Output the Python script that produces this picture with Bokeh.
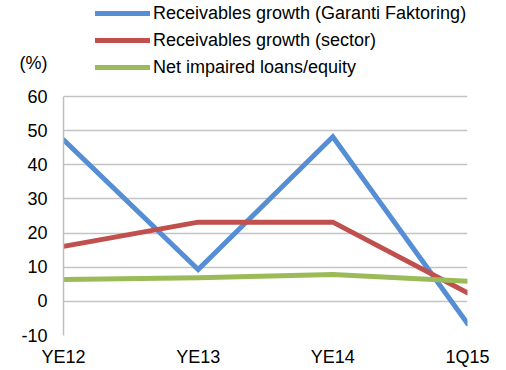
from bokeh.plotting import figure
from bokeh.models import Range1d, FixedTicker, Legend, LegendItem
from bokeh.embed import file_html
from bokeh.resources import INLINE

categories = ["YE12", "YE13", "YE14", "1Q15"]
garanti = [47.3, 9.3, 48.2, -6.5]
sector = [16.1, 23.2, 23.2, 2.5]
npl_equity = [6.4, 6.9, 7.9, 5.9]
y_ticks = [-10, 0, 10, 20, 30, 40, 50, 60]
unit_label = "(%)"

FONT = "Liberation Sans"
FS = "18px"
xs = list(range(len(categories)))

# frame reaches the top of the page so the legend can sit above the data area
Y_MIN, Y_MAX = y_ticks[0], y_ticks[-1]
FRAME_H = 335
DATA_TOP_PX = 96
px_per_unit = (FRAME_H - DATA_TOP_PX) / (Y_MAX - Y_MIN)
y_top = Y_MAX + DATA_TOP_PX / px_per_unit
unit_pos = Y_MAX + (DATA_TOP_PX - 62) / px_per_unit

p = figure(width=506, height=370, output_backend="svg", toolbar_location=None,
           x_range=Range1d(0, len(categories) - 1), y_range=Range1d(Y_MIN, y_top),
           min_border_left=63, min_border_right=39, min_border_top=0, min_border_bottom=35)
p.outline_line_color = None
p.background_fill_color = "white"
p.border_fill_color = "white"

# axes
p.xaxis.ticker = FixedTicker(ticks=xs)
p.xaxis.major_label_overrides = {i: c for i, c in enumerate(categories)}
p.xaxis.axis_line_color = None
p.xaxis.major_tick_line_color = None
p.xaxis.minor_tick_line_color = None
p.xaxis.major_tick_in = 0
p.xaxis.major_tick_out = 0
p.xaxis.major_label_text_font = FONT
p.xaxis.major_label_text_font_size = FS
p.xaxis.major_label_text_color = "black"
p.xaxis.major_label_standoff = 11

y_labels = {t: str(t) for t in y_ticks}
y_labels[unit_pos] = unit_label
p.yaxis.ticker = FixedTicker(ticks=y_ticks + [unit_pos])
p.yaxis.major_label_overrides = y_labels
p.yaxis.bounds = (Y_MIN, Y_MAX)
p.yaxis.axis_line_color = "#BFBFBF"
p.yaxis.axis_line_width = 1.5
p.yaxis.major_tick_line_color = None
p.yaxis.minor_tick_line_color = None
p.yaxis.major_tick_in = 0
p.yaxis.major_tick_out = 0
p.yaxis.major_label_text_font = FONT
p.yaxis.major_label_text_font_size = FS
p.yaxis.major_label_text_color = "black"
p.yaxis.major_label_standoff = 16

p.xgrid.grid_line_color = None
p.ygrid.ticker = FixedTicker(ticks=y_ticks)
p.ygrid.grid_line_color = "#C4C4C4"
p.ygrid.grid_line_width = 1.5

r1 = p.line(xs, garanti, line_color="#558ED5", line_width=5, line_join="miter", line_cap="round")
r2 = p.line(xs, sector, line_color="#C0504D", line_width=5, line_join="miter", line_cap="round")
r3 = p.line(xs, npl_equity, line_color="#9BBB59", line_width=5, line_join="miter", line_cap="round")

legend = Legend(items=[
    LegendItem(label="Receivables growth (Garanti Faktoring)", renderers=[r1]),
    LegendItem(label="Receivables growth (sector)", renderers=[r2]),
    LegendItem(label="Net impaired loans/equity", renderers=[r3]),
], location=(32, FRAME_H - 80))
legend.label_text_font = FONT
legend.label_text_font_size = FS
legend.label_text_color = "black"
legend.glyph_width = 55
legend.glyph_height = 26
legend.label_height = 26
legend.label_standoff = 3
legend.spacing = 1
legend.padding = 0
legend.margin = 0
legend.border_line_color = None
legend.background_fill_alpha = 0
p.add_layout(legend, "center")

open("out.html", "w").write(file_html(p, INLINE))
